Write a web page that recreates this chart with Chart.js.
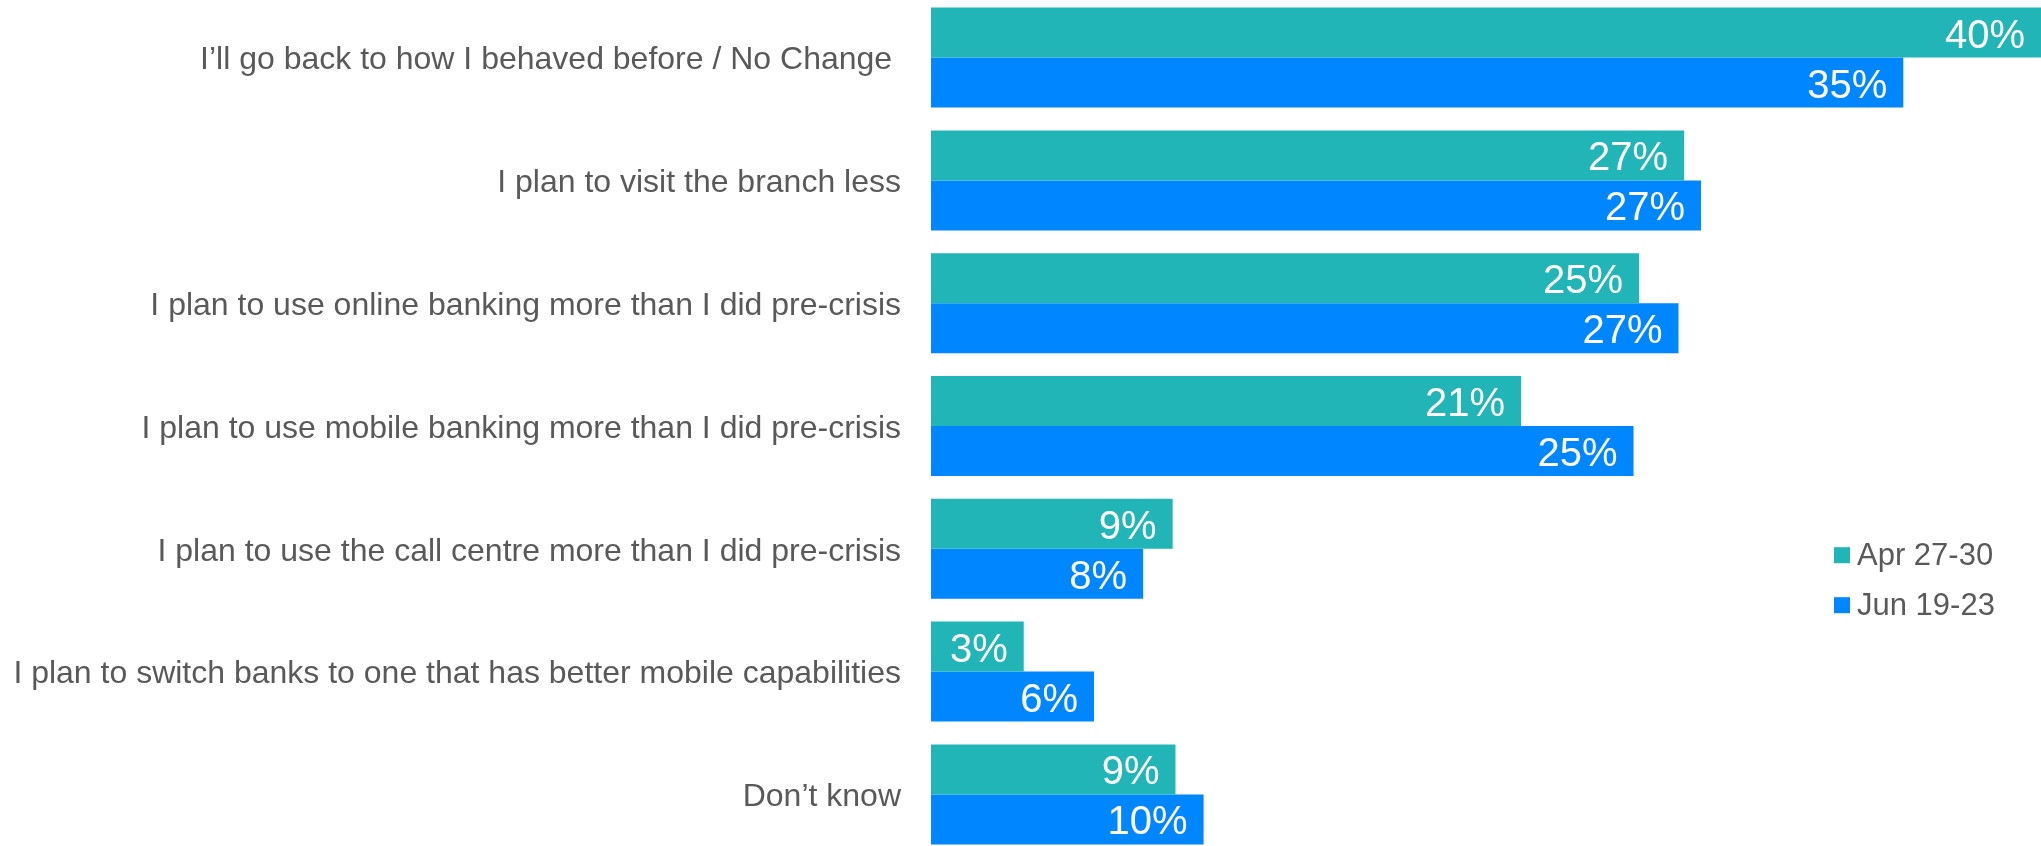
<!doctype html>
<html lang="en">
  <head>
    <meta charset="utf-8">
    <title>Post-crisis banking plans</title>
    <style>
      * {
        margin: 0;
        padding: 0;
      }
      body {
        width: 2041px;
        height: 846px;
        overflow: hidden;
        background: #fff;
      }
      /* the y axis adds label padding above and below the plot, so the
         canvas is taller than the page and shifted up to compensate */
      .chartBox {
        position: absolute;
        left: 0;
        top: -53px;
        width: 2041px;
        height: 958px;
      }
    </style>
  </head>
  <body>
    <div class="chartBox"><canvas id="myChart"></canvas></div>
    <script src="https://cdn.jsdelivr.net/npm/chart.js/dist/chart.umd.min.js"></script>
    <script>
    // data
    const categories = [
      'I\u2019ll go back to how I behaved before / No Change ',
      'I plan to visit the branch less',
      'I plan to use online banking more than I did pre-crisis',
      'I plan to use mobile banking more than I did pre-crisis',
      'I plan to use the call centre more than I did pre-crisis',
      'I plan to switch banks to one that has better mobile capabilities',
      'Don\u2019t know'
    ];
    const seriesNames = ['Apr 27-30', 'Jun 19-23'];
    const aprValues = [39.6, 26.8, 25.2, 21.0, 8.6, 3.3, 8.7];
    const junValues = [34.6, 27.4, 26.6, 25.0, 7.55, 5.8, 9.7];

    const TEAL = '#21B5B8';
    const BLUE = '#0086FE';
    const GREY = '#595959';
    const FONT = "'Liberation Sans', Arial, sans-serif";

    // white % labels at the end of each bar
    const barLabels = {
      id: 'barLabels',
      afterDatasetsDraw(chart) {
        const {ctx} = chart;
        ctx.save();
        ctx.font = '40px ' + FONT;
        ctx.fillStyle = '#fff';
        ctx.textAlign = 'right';
        ctx.textBaseline = 'middle';
        chart.data.datasets.forEach((ds, i) => {
          chart.getDatasetMeta(i).data.forEach((bar, j) => {
            const x = Math.min(bar.x, chart.chartArea.right);
            ctx.fillText(Math.round(ds.data[j]) + '%', x - 16, bar.y + 4);
          });
        });
        ctx.restore();
      }
    };

    // legend sits inside the plot, lower right
    const sideLegend = {
      id: 'sideLegend',
      afterDraw(chart) {
        const {ctx} = chart;
        const top = chart.chartArea.top;
        ctx.save();
        ctx.font = '31px ' + FONT;
        ctx.textBaseline = 'middle';
        ctx.textAlign = 'left';
        chart.data.datasets.forEach((ds, i) => {
          const y = top + 559 + i * 50;
          ctx.fillStyle = ds.backgroundColor;
          ctx.fillRect(1834, y - 8, 16, 16);
          ctx.fillStyle = GREY;
          ctx.fillText(ds.label, 1857, y + 1);
        });
        ctx.restore();
      }
    };

    const data = {
      labels: categories,
      datasets: [
        {label: seriesNames[0], data: aprValues, backgroundColor: TEAL},
        {label: seriesNames[1], data: junValues, backgroundColor: BLUE}
      ]
    };

    const config = {
      type: 'bar',
      data,
      options: {
        indexAxis: 'y',
        responsive: true,
        maintainAspectRatio: false,
        animation: false,
        layout: {padding: 0},
        datasets: {
          bar: {
            categoryPercentage: 0.814,
            barPercentage: 1,
            borderWidth: 0
          }
        },
        scales: {
          x: {
            display: false,
            min: 0,
            max: 39.5
          },
          y: {
            grid: {display: false, drawTicks: false},
            border: {display: false},
            ticks: {
              autoSkip: false,
              padding: 30,
              labelOffset: 3,
              color: GREY,
              font: {family: FONT, size: 32}
            },
            afterFit(scale) {
              scale.width = 931;
            }
          }
        },
        plugins: {
          legend: {display: false},
          tooltip: {enabled: false}
        }
      },
      plugins: [barLabels, sideLegend]
    };

    new Chart(document.getElementById('myChart'), config);
    </script>
  </body>
</html>
